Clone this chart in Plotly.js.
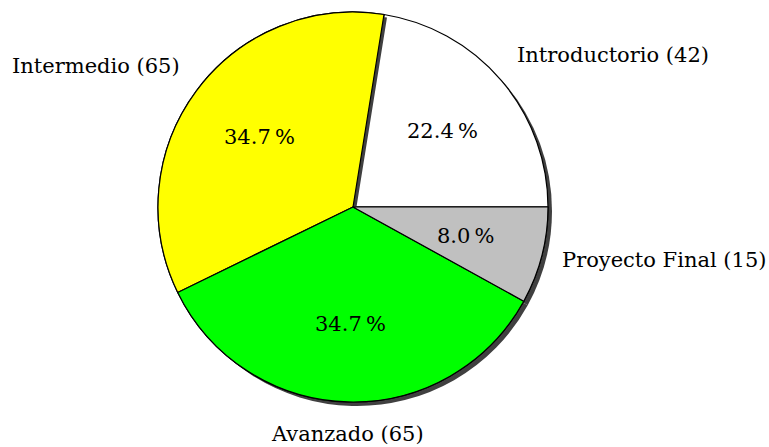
<!DOCTYPE html>
<html>
<head>
<meta charset="utf-8">
<script src="https://cdn.plot.ly/plotly-3.0.1.min.js"></script>
<style>html,body{margin:0;padding:0;background:#fff;}#chart{width:769px;height:447px;}</style>
</head>
<body>
<div id="chart"></div>
<script>
// Data
const categories = ['Introductorio', 'Intermedio', 'Avanzado', 'Proyecto Final'];
const counts = [42, 65, 65, 15];
const sliceColors = ['#ffffff', '#ffff00', '#00ff00', '#c0c0c0'];

const W = 769, H = 447;
const cx = 353, cy = 207, R = 195;   // pie centre and radius, pixels
const shadowDx = 4, shadowDy = 4;
const shadowColor = '#404040';
const clear = 'rgba(0,0,0,0)';
const serif = 'DejaVu Serif';

function dom(r, dx, dy) {
  return {
    x: [(cx + dx - r) / W, (cx + dx + r) / W],
    y: [1 - (cy + dy + r) / H, 1 - (cy + dy - r) / H]
  };
}

const total = counts.reduce((a, b) => a + b, 0);
// percentages truncated to one decimal, as in the original
const pctText = counts.map(v => (Math.floor(v / total * 1000) / 10).toFixed(1) + '\u2009%');
const labelText = categories.map((c, i) => c + ' (' + counts[i] + ')');
// first slice starts at 3 o'clock and runs counter-clockwise
const startRotation = 90 - 360 * counts[0] / total;

// mid angle of each slice (degrees, counter-clockwise from 3 o'clock)
let cum = 0;
const midAngles = counts.map(v => { const m = (cum + v / 2) / total * 360; cum += v; return m; });

const common = {
  type: 'pie', labels: categories, values: counts, sort: false,
  direction: 'counterclockwise', rotation: startRotation, showlegend: false,
  hoverinfo: 'skip', textinfo: 'none'
};

const traces = [
  // full shadow
  Object.assign({}, common, {
    domain: dom(R, shadowDx, shadowDy),
    marker: {colors: categories.map(() => shadowColor), line: {width: 0}}
  }),
  // main pie
  Object.assign({}, common, {
    domain: dom(R, 0, 0),
    marker: {colors: sliceColors, line: {color: '#000', width: 1.2}}
  }),
  // shadow of Intermedio slice falling on Introductorio
  Object.assign({}, common, {
    domain: dom(R, shadowDx - 1, shadowDy - 1),
    marker: {colors: categories.map((c, i) => i === 1 ? shadowColor : clear), line: {width: 0}}
  }),
  // slices drawn after Introductorio
  Object.assign({}, common, {
    domain: dom(R, 0, 0),
    marker: {colors: sliceColors.map((c, i) => i === 0 ? clear : c),
             line: {color: '#000', width: categories.map((c, i) => i === 0 ? 0 : 1.2)}}
  })
];

const annotations = [];
midAngles.forEach((a, i) => {
  const rad = a * Math.PI / 180, c = Math.cos(rad), s = Math.sin(rad);
  // percentage inside the slice
  annotations.push({
    xref: 'paper', yref: 'paper', showarrow: false, borderpad: 0,
    x: (cx + 0.6 * R * c) / W, y: 1 - (cy - 0.6 * R * s) / H,
    xanchor: 'center', yanchor: 'middle',
    text: pctText[i], font: {family: serif, size: 21, color: '#000'}
  });
  // category label outside
  annotations.push({
    xref: 'paper', yref: 'paper', showarrow: false, borderpad: 0,
    x: (cx + 1.1 * R * c) / W, y: 1 - (cy - 1.1 * R * s) / H,
    xanchor: c > 0.3 ? 'left' : (c < -0.3 ? 'right' : 'center'),
    yanchor: s > 0.3 ? 'bottom' : (s < -0.3 ? 'top' : 'middle'),
    text: labelText[i], font: {family: serif, size: 21, color: '#000'}
  });
});

const layout = {
  width: W, height: H,
  margin: {l: 0, r: 0, t: 0, b: 0},
  paper_bgcolor: '#fff',
  font: {family: serif, size: 21, color: '#000'},
  showlegend: false,
  annotations: annotations
};

Plotly.newPlot('chart', traces, layout, {displayModeBar: false, staticPlot: true});
</script>
</body>
</html>
